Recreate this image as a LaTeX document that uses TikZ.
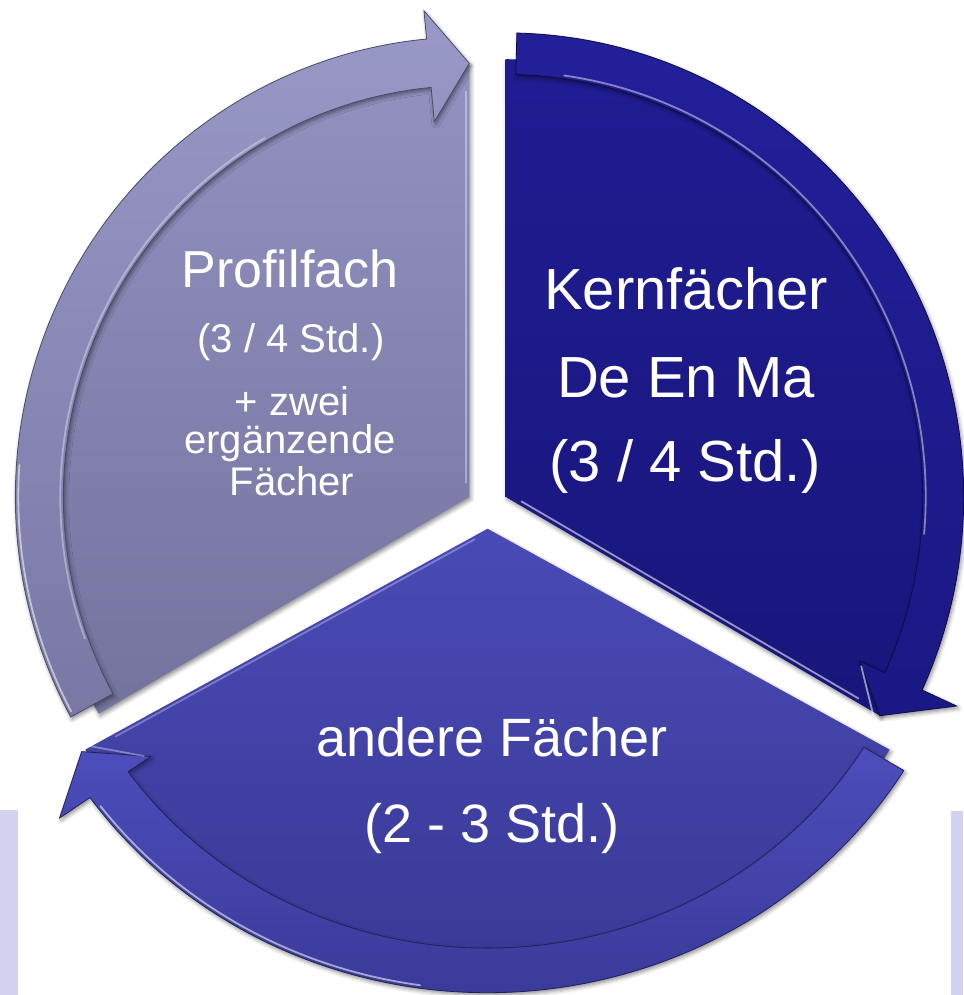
\documentclass[tikz,border=0pt]{standalone}
\usepackage{fontspec}
\setmainfont{Liberation Sans}
\usetikzlibrary{shadows.blur}
\definecolor{lightT}{HTML}{9292C1}
\definecolor{lightB}{HTML}{74739E}
\definecolor{lightBT}{HTML}{9999C8}
\definecolor{lightBB}{HTML}{7978A5}
\definecolor{darkT}{HTML}{201C92}
\definecolor{darkB}{HTML}{18167C}
\definecolor{darkBT}{HTML}{231F99}
\definecolor{darkBB}{HTML}{1A1884}
\definecolor{botT}{HTML}{4A4AB6}
\definecolor{botB}{HTML}{373792}
\definecolor{botBT}{HTML}{4D4DBC}
\definecolor{botBB}{HTML}{3A3A99}
\definecolor{bgrect}{HTML}{D3D3F1}
\newcommand\segRp{428}
\newcommand\segRo{454}
\newcommand\segRi{406}
\newcommand\segRt{428}
\newcommand\segRho{482}
\newcommand\segRhi{372}
\newcommand\segXS{1}
\tikzset{
  segshadow/.style={blur shadow={shadow xshift=1.5pt, shadow yshift=-2.5pt, shadow blur radius=4pt, shadow opacity=45}},
  segtext/.style={text=white, align=center, inner sep=0pt, anchor=base},
  hilite/.style={white, line width=1.8pt, opacity=0.55, line cap=round},
}
\newcommand\drawseg[7]{%
  \pgfmathsetmacro\segE{#1+120}%
  \pgfmathsetmacro\segT{#1+118.6}%
  \pgfmathsetmacro\segB{#1+5.4}%
  \pgfmathsetmacro\segM{#1+60}%
  \begin{scope}[shift={(\segM:21)}, xscale=\segXS]
    \path[segshadow, top color=#2, bottom color=#3]
      (0,0) -- (#1:\segRp) arc[start angle=#1, end angle=\segE, radius=\segRp] -- cycle;
    \path[segshadow, top color=#4, bottom color=#5, draw=#6, line width=0.8pt]
      (\segT:\segRo) arc[start angle=\segT, end angle=\segB, radius=\segRo]
      -- (\segB:\segRho) -- (#1:\segRt) -- (\segB:\segRhi) -- (\segB:\segRi)
      arc[start angle=\segB, end angle=\segT, radius=\segRi] -- cycle;
    #7
  \end{scope}}
\begin{document}
\begin{tikzpicture}[x=1pt,y=1pt]
\useasboundingbox (0,0) rectangle (963,995);
\fill[bgrect] (0,0) rectangle (18,185);
\fill[bgrect] (951,0) rectangle (963,184);
\begin{scope}[shift={(487.5,487.5)}, yscale=1.013]
  % Profilfach segment
  \drawseg{90}{lightT}{lightB}{lightBT}{lightBB}{lightB!65!black}{%
    \draw[hilite] (176:451) arc[start angle=176, end angle=208, radius=451];
    \draw[hilite, opacity=0.35] (120:409) arc[start angle=120, end angle=200, radius=409];
    \draw[hilite, opacity=0.35] ([shift={(180:3)}]90:14) -- ([shift={(180:3)}]90:400);
  }
  % Kernfaecher segment
  \renewcommand\segRp{432}\renewcommand\segRo{458}\renewcommand\segRi{417}%
  \renewcommand\segRt{432}\renewcommand\segRho{496}\renewcommand\segRhi{389}%
  \drawseg{-30}{darkT}{darkB}{darkBT}{darkBB}{darkB!55!black}{%
    \draw[hilite] ([shift={(60:4)}]-30:16) -- ([shift={(60:4)}]-30:405);
    \draw[hilite, opacity=0.45] (82:420) arc[start angle=82, end angle=-5, radius=420];
    \draw[hilite] (-30.5:427) -- (-25.2:393);
  }
  % andere Faecher segment
  \renewcommand\segRp{436}\renewcommand\segRo{458}\renewcommand\segRi{414}%
  \renewcommand\segRt{440}\renewcommand\segRho{493}\renewcommand\segRhi{388}%
  \renewcommand\segXS{1.065}%
  \drawseg{210}{botT}{botB}{botBT}{botBB}{botB!60!black}{%
    \draw[hilite] (217:455) arc[start angle=217, end angle=262, radius=455];
    \draw[hilite, opacity=0.3] ([shift={(300:3)}]210:16) -- ([shift={(300:3)}]210:405);
    \draw[hilite, opacity=0.35] (209.5:434) -- (214.8:393);
  }
\end{scope}
% texts
\node[segtext, font=\fontsize{52}{52}\selectfont] (p1) at (290,707) {Profilfach};
\node[segtext, font=\fontsize{40}{40}\selectfont] (p2) at (291,642) {(3 / 4 Std.)};
\node[segtext, font=\fontsize{40}{40}\selectfont] (p3) at (292,579) {+ zwei};
\node[segtext, font=\fontsize{40}{40}\selectfont] (p4) at (290,541) {ergänzende};
\node[segtext, font=\fontsize{40}{40}\selectfont] (p5) at (292,499) {Fächer};
\node[segtext, font=\fontsize{58}{58}\selectfont] (k1) at (686,685) {Kernfächer};
\node[segtext, font=\fontsize{58}{58}\selectfont] (k2) at (686,597) {De En Ma};
\node[segtext, font=\fontsize{58}{58}\selectfont] (k3) at (685,513) {(3 / 4 Std.)};
\node[segtext, font=\fontsize{54}{54}\selectfont] (b1) at (492,238) {andere Fächer};
\node[segtext, font=\fontsize{54}{54}\selectfont] (b2) at (492,152) {(2 - 3 Std.)};
\end{tikzpicture}
\end{document}
